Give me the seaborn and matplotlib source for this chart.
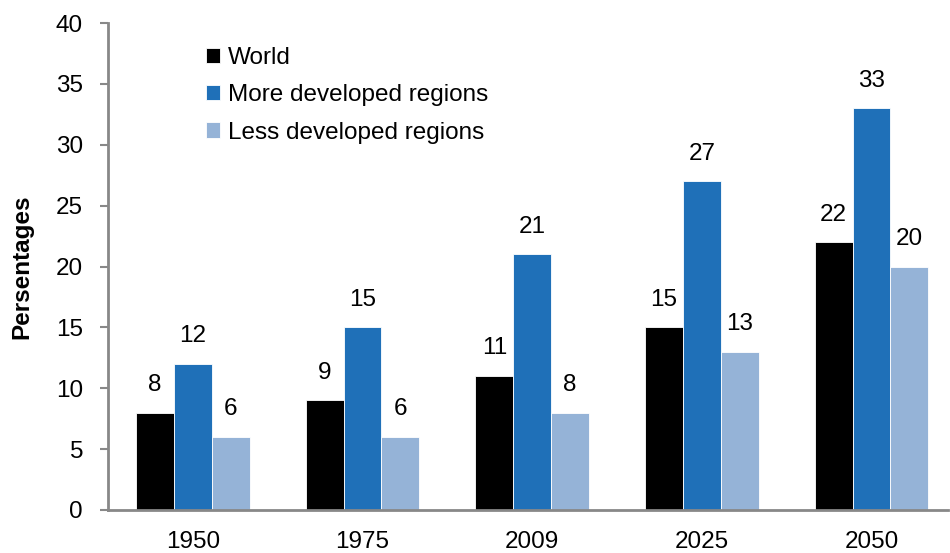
import matplotlib
matplotlib.use("Agg")
import matplotlib.pyplot as plt
import seaborn as sns
import pandas as pd

years = ["1950", "1975", "2009", "2025", "2050"]
series = ["World", "More developed regions", "Less developed regions"]
world = [8, 9, 11, 15, 22]
more_developed = [12, 15, 21, 27, 33]
less_developed = [6, 6, 8, 13, 20]
colors = ["#000000", "#1F70B8", "#95B3D7"]
y_ticks = [0, 5, 10, 15, 20, 25, 30, 35, 40]

sns.set_theme(style="white")
plt.rcParams["font.family"] = ["Liberation Sans", "DejaVu Sans"]
plt.rcParams["text.color"] = "black"
plt.rcParams["xtick.color"] = "black"
plt.rcParams["ytick.color"] = "black"

df = pd.DataFrame({
    "year": years * 3,
    "series": [s for s in series for _ in years],
    "value": world + more_developed + less_developed,
})

fig = plt.figure(figsize=(9.5, 5.53), dpi=100)
ax = fig.add_axes([0.1137, 0.0778, 0.884, 0.8805])

sns.barplot(data=df, x="year", y="value", hue="series", hue_order=series,
            order=years, palette=colors, width=0.67, saturation=1,
            edgecolor="white", linewidth=0.6, ax=ax)

for cont in ax.containers:
    ax.bar_label(cont, labels=[f"{v:g}" for v in cont.datavalues],
                 padding=12, fontsize=17.5, color="black")

ax.set_ylim(0, 40)
ax.set_xlim(-0.5, 4.45)
ax.set_yticks(y_ticks)
ax.tick_params(axis="y", which="both", left=True, length=6, width=1.5,
               color="#888888", labelcolor="black", labelsize=17.5, pad=12)
ax.tick_params(axis="x", bottom=False, labelcolor="black", labelsize=17.5, pad=9)
ax.set_xlabel("")
ax.set_ylabel("Persentages", fontsize=17.5, fontweight="bold", labelpad=16,
              color="black")

for side in ["top", "right"]:
    ax.spines[side].set_visible(False)
for side in ["left", "bottom"]:
    ax.spines[side].set_color("#888888")
    ax.spines[side].set_linewidth(2)

leg = ax.legend(loc="upper left", bbox_to_anchor=(0.117, 0.951), frameon=False,
                fontsize=17.5, handlelength=0.58, handleheight=0.58,
                handletextpad=0.3, labelspacing=0.63, borderaxespad=0,
                borderpad=0)
for t in leg.get_texts():
    t.set_color("black")

fig.savefig("out.png", dpi=100)
